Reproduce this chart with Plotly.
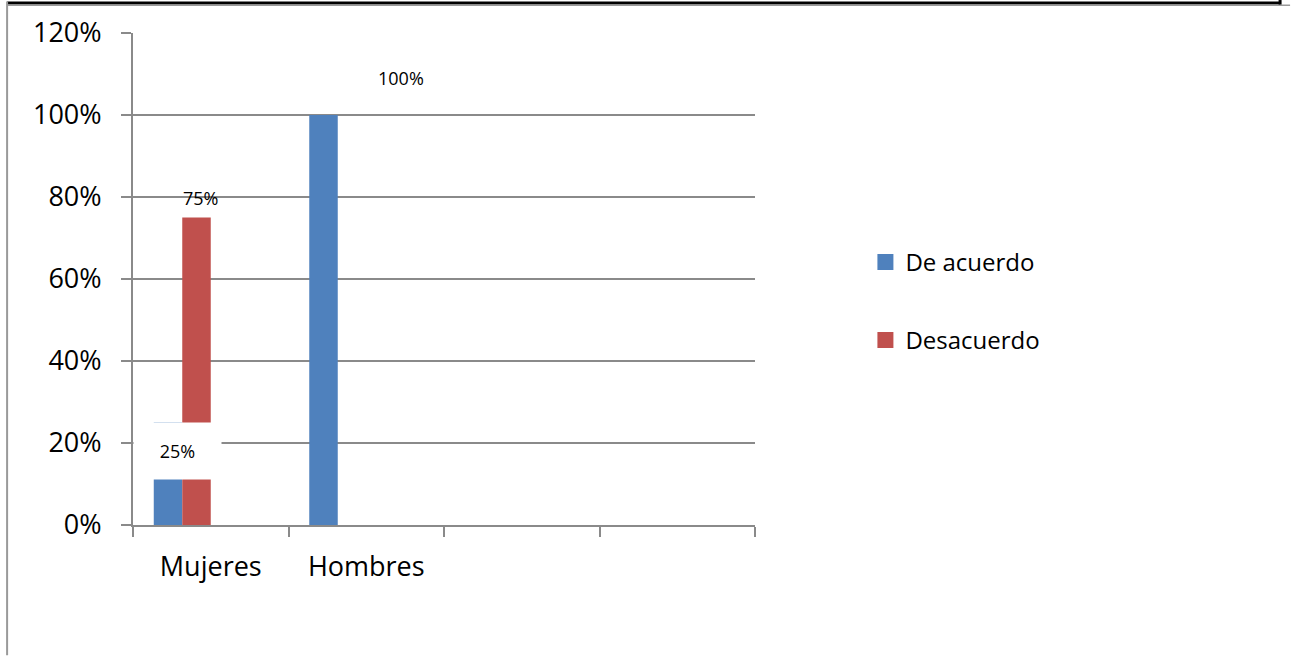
import plotly.graph_objects as go

# ---- data ----
categories = ["Mujeres", "Hombres", " ", "  "]
de_acuerdo = [0.25, 1.00, None, None]
desacuerdo = [0.75, None, None, None]
empty_series = [None, None, None, None]
tick_vals = [0, 0.2, 0.4, 0.6, 0.8, 1.0, 1.2]

# ---- layout geometry (px) ----
W, H = 1291, 656
L, R, T, B = 133, 755.5, 33, 525.5
ML, MR, MT, MB = L, W - R, T, H - B

def px_x(p):
    return (p - L) / (R - L)

def px_y(p):
    return (B - p) / (B - T)

BLUE = "#4F81BD"
RED = "#C0504D"
GRID = "#8a8a8a"
FONT = "Open Sans"

fig = go.Figure()
fig.add_trace(go.Bar(x=categories, y=de_acuerdo, name="De acuerdo",
                     marker=dict(color=BLUE, line=dict(width=0)),
                     showlegend=False))
fig.add_trace(go.Bar(x=categories, y=desacuerdo, name="Desacuerdo",
                     marker=dict(color=RED, line=dict(width=0)),
                     showlegend=False))
fig.add_trace(go.Bar(x=categories, y=empty_series, name="s3", showlegend=False))
fig.add_trace(go.Bar(x=categories, y=empty_series, name="s4", showlegend=False))

# legend entries (square keys)
for nm, col, grp in [("De acuerdo", BLUE, "a"), ("Desacuerdo", RED, "b")]:
    fig.add_trace(go.Scatter(x=[None], y=[None], mode="markers", name=nm,
                             marker=dict(symbol="square", size=17, color=col),
                             legendgroup=grp, showlegend=True))

# data labels
fig.add_annotation(x=-0.214, y=0.1815, xref="x", yref="y", text="25%",
                   showarrow=False, bgcolor="white", width=85, height=54,
                   font=dict(family=FONT, size=18, color="black"))
fig.add_annotation(x=-0.063, y=desacuerdo[0] + 0.048, xref="x", yref="y",
                   text="75%", showarrow=False,
                   font=dict(family=FONT, size=18, color="black"))
fig.add_annotation(x=1.221, y=de_acuerdo[1] + 0.09, xref="x", yref="y",
                   text="100%", showarrow=False,
                   font=dict(family=FONT, size=18, color="black"))

# outer frame (cropped chart border)
shapes = [
    dict(type="line", xref="paper", yref="paper", x0=px_x(7), x1=px_x(1281),
         y0=px_y(3), y1=px_y(3), line=dict(color="black", width=3)),
    dict(type="line", xref="paper", yref="paper", x0=px_x(7), x1=px_x(1291),
         y0=px_y(5.2), y1=px_y(5.2), line=dict(color="#9a9a9a", width=1.5)),
    dict(type="line", xref="paper", yref="paper", x0=px_x(1281), x1=px_x(1281),
         y0=px_y(0), y1=px_y(4.5), line=dict(color="black", width=3)),
    dict(type="line", xref="paper", yref="paper", x0=px_x(7), x1=px_x(7),
         y0=px_y(1.5), y1=px_y(656), line=dict(color="#9a9a9a", width=2)),
]

fig.update_layout(
    width=W, height=H,
    margin=dict(l=ML, r=MR, t=MT, b=MB, autoexpand=False),
    paper_bgcolor="white", plot_bgcolor="white",
    barmode="group", bargap=0.267, bargroupgap=0,
    font=dict(family=FONT, color="black"),
    shapes=shapes,
    legend=dict(x=px_x(866), y=px_y(240), xanchor="left", yanchor="top",
                font=dict(family=FONT, size=24, color="black"),
                tracegroupgap=44, bgcolor="rgba(0,0,0,0)", itemsizing="trace"),
    xaxis=dict(type="category", categoryorder="array", categoryarray=categories,
               range=[-0.5, 3.5], showline=True, linecolor=GRID, linewidth=2,
               ticks="outside", tickson="boundaries", ticklen=10, tickcolor=GRID,
               tickwidth=2, showgrid=False,
               tickfont=dict(family=FONT, size=27, color="black"),
               ticklabelstandoff=17),
    yaxis=dict(range=[0, 1.2], tickvals=tick_vals, tickformat=".0%",
               showline=True, linecolor=GRID, linewidth=2,
               showgrid=True, gridcolor=GRID, gridwidth=2, zeroline=False,
               ticks="outside", ticklen=10, tickcolor=GRID, tickwidth=2,
               tickfont=dict(family=FONT, size=27, color="black"),
               ticklabelstandoff=14),
)

fig.write_html("out.html", config={"displayModeBar": False},
               post_script="document.body.style.margin='0';document.body.style.padding='0';")
